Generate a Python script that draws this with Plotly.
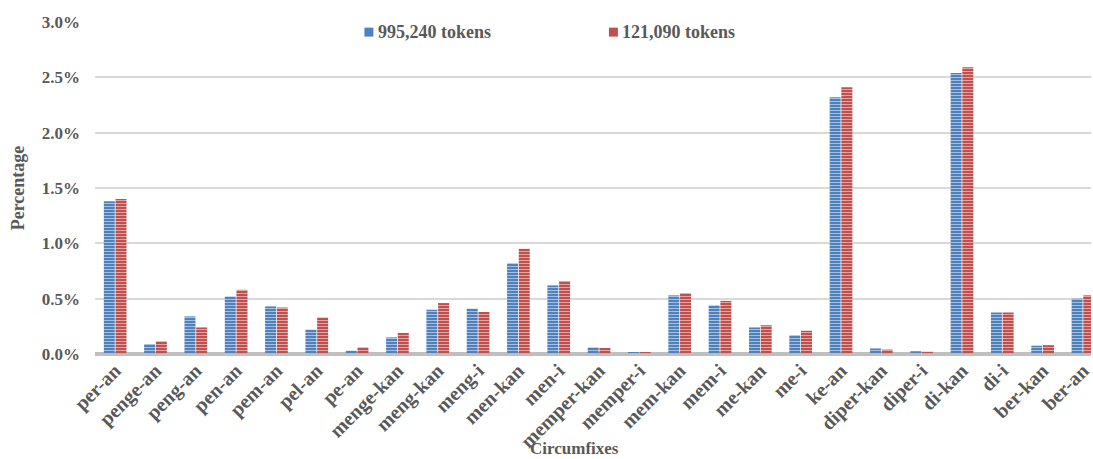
import plotly.graph_objects as go

categories = ["per-an", "penge-an", "peng-an", "pen-an", "pem-an", "pel-an", "pe-an",
              "menge-kan", "meng-kan", "meng-i", "men-kan", "men-i", "memper-kan",
              "memper-i", "mem-kan", "mem-i", "me-kan", "me-i", "ke-an", "diper-kan",
              "diper-i", "di-kan", "di-i", "ber-kan", "ber-an"]

# Percentages (%) for the large corpus (995,240 tokens)
large_corpus = [1.38, 0.09, 0.34, 0.52, 0.43, 0.22, 0.03,
                0.15, 0.40, 0.41, 0.82, 0.62, 0.06,
                0.016, 0.53, 0.44, 0.24, 0.17, 2.32, 0.05,
                0.025, 2.54, 0.375, 0.075, 0.50]

# Percentages (%) for the small corpus (121,090 tokens)
small_corpus = [1.40, 0.115, 0.24, 0.58, 0.42, 0.33, 0.06,
                0.19, 0.46, 0.38, 0.95, 0.66, 0.055,
                0.015, 0.55, 0.48, 0.26, 0.21, 2.41, 0.04,
                0.02, 2.59, 0.375, 0.08, 0.53]

series_names = ["995,240 tokens", "121,090 tokens"]
y_ticks = [0, 0.5, 1.0, 1.5, 2.0, 2.5, 3.0]
y_tick_text = ["0.0%", "0.5%", "1.0%", "1.5%", "2.0%", "2.5%", "3.0%"]

BLUE = "#4F81BD"
RED = "#C0504D"
TEXT = "#595959"
FONT = "Liberation Serif"


def striped(color):
    return dict(
        color=color,
        line=dict(width=0),
        pattern=dict(shape="-", fillmode="overlay", fgcolor="white",
                     fgopacity=0.55, size=3, solidity=0.3),
    )


def bold(size):
    return dict(family=FONT, size=size, color=TEXT, weight="bold")


fig = go.Figure()
fig.add_trace(go.Bar(x=categories, y=large_corpus, name=series_names[0],
                     marker=striped(BLUE), showlegend=False))
fig.add_trace(go.Bar(x=categories, y=small_corpus, name=series_names[1],
                     marker=striped(RED), showlegend=False))

# Legend keys: small solid squares followed by the series names
legend_keys = [(0.2705, BLUE, series_names[0]), (0.516, RED, series_names[1])]
shapes = []
annotations = []
for x0, color, label in legend_keys:
    shapes.append(dict(type="rect", xref="paper", yref="paper",
                       x0=x0, x1=x0 + 0.009, y0=0.956, y1=0.983,
                       fillcolor=color, line=dict(width=0)))
    annotations.append(dict(text=label, xref="paper", yref="paper",
                            x=x0 + 0.0115, y=0.970, xanchor="left", yanchor="middle",
                            showarrow=False, font=bold(18)))

annotations += [
    dict(text="Circumfixes", xref="paper", yref="paper", x=0.481, y=-0.286,
         xanchor="center", yanchor="middle", showarrow=False, font=bold(17)),
    dict(text="Percentage", xref="paper", yref="paper", x=-0.077, y=0.5,
         xanchor="center", yanchor="middle", textangle=-90, showarrow=False,
         font=bold(18)),
]

fig.update_layout(
    width=1093, height=459,
    margin=dict(l=95, r=0, t=22, b=105),
    paper_bgcolor="white", plot_bgcolor="white",
    barmode="group", bargap=0.42, bargroupgap=0.06,
    font=dict(family=FONT, size=15, color=TEXT),
    showlegend=False,
    xaxis=dict(
        range=[-0.5, 24.2], tickangle=-45, showgrid=False,
        showline=False, ticks="",
        tickfont=bold(20),
    ),
    yaxis=dict(
        range=[0, 3.0], tickvals=y_ticks, ticktext=y_tick_text,
        showgrid=True, gridcolor="#D9D9D9", gridwidth=1.5,
        zeroline=True, zerolinecolor="#BFBFBF", zerolinewidth=4,
        showline=False, ticks="", ticklen=0, ticklabelstandoff=14,
        tickfont=bold(17),
    ),
    shapes=shapes,
    annotations=annotations,
)

fig.write_html("out.html")
